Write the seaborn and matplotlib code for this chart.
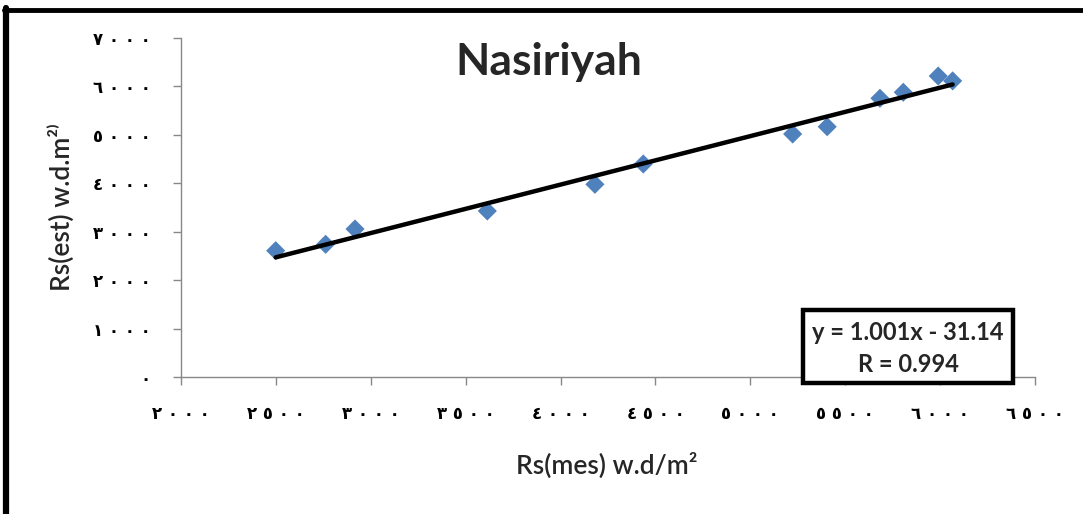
import matplotlib
matplotlib.use("Agg")
import matplotlib.pyplot as plt
import seaborn as sns
import pandas as pd
from matplotlib.patches import Rectangle
from matplotlib.lines import Line2D

# ---- data ----
rs_mes = [2499, 2762, 2917, 3614, 4181, 4436, 5223, 5405, 5683, 5806, 5990, 6066]
rs_est = [2608, 2740, 3056, 3428, 3979, 4398, 5018, 5168, 5755, 5879, 6215, 6114]
slope = 1.001
intercept = -31.14
r_value = 0.994
x_ticks = [2000, 2500, 3000, 3500, 4000, 4500, 5000, 5500, 6000, 6500]
y_ticks = [0, 1000, 2000, 3000, 4000, 5000, 6000, 7000]
title = "Nasiriyah"
x_label = "Rs(mes) w.d/m²"
y_label = "Rs(est) w.d.m²⁾"

AR = str.maketrans("0123456789", "٠١٢٣٤٥٦٧٨٩")
def ar(v):
    return " ".join(str(v).translate(AR))

sns.set_theme(style="white")
plt.rcParams["font.family"] = ["Lato", "DejaVu Sans"]

fig = plt.figure(figsize=(10.83, 5.14), dpi=100)
fig.patch.set_facecolor("white")
ax = fig.add_axes([181/1083, 1-377/514, (1035-181)/1083, (377-38)/514])

df = pd.DataFrame({"x": rs_mes, "y": rs_est})
sns.scatterplot(data=df, x="x", y="y", ax=ax, marker="D", s=95,
                color="#4F81BD", edgecolor="none", zorder=2)
xl = [min(rs_mes), max(rs_mes)]
line_df = pd.DataFrame({"x": xl, "y": [slope*v + intercept for v in xl]})
sns.lineplot(data=line_df, x="x", y="y", ax=ax, color="black", lw=3.2, zorder=3)

ax.set_xlim(x_ticks[0], x_ticks[-1])
ax.set_ylim(y_ticks[0], y_ticks[-1])
ax.set_xticks(x_ticks)
ax.set_yticks(y_ticks)
ax.set_xticklabels([ar(v) for v in x_ticks], family="DejaVu Sans", fontweight="bold", fontsize=12)
ax.set_yticklabels([ar(v) for v in y_ticks], family="DejaVu Sans", fontweight="bold", fontsize=12)
for s in ["top", "right"]:
    ax.spines[s].set_visible(False)
for s in ["left", "bottom"]:
    ax.spines[s].set_color("#888888")
    ax.spines[s].set_linewidth(1.0)
ax.tick_params(axis="both", direction="out", length=6, width=1.0, color="#888888",
               colors="black", left=True, bottom=True)
ax.tick_params(axis="y", pad=16)
ax.tick_params(axis="x", pad=14)
ax.set_xlabel("")
ax.set_ylabel("")

fig.text(549/1083, 1-62/514, title, ha="center", va="center", fontsize=32,
         fontweight="bold", family=["Lato", "DejaVu Sans"])
fig.text(607/1083, 1-466/514, x_label, ha="center", va="center", fontsize=19,
         fontweight="semibold", family=["Lato", "DejaVu Sans"])
fig.text(61/1083, 1-207/514, y_label, ha="center", va="center", fontsize=19,
         fontweight="semibold", rotation=90, family=["Lato", "DejaVu Sans"])

# equation box
fig.patches.append(Rectangle((803/1083, 1-383/514), (1013-803)/1083, (383-310)/514,
                             transform=fig.transFigure, fc="white", ec="black",
                             lw=3.2, zorder=5))
fig.text(908/1083, 1-332/514, f"y = {slope:.3f}x - {abs(intercept):.2f}",
         ha="center", va="center", fontsize=17, fontweight="bold", zorder=6)
fig.text(908/1083, 1-364/514, f"R = {r_value:.3f}",
         ha="center", va="center", fontsize=17, fontweight="bold", zorder=6)

# outer frame (left and top)
fig.lines.append(Line2D([6/1083, 6/1083], [0, 1-8/514], transform=fig.transFigure,
                        color="black", lw=4.5))
fig.lines.append(Line2D([4/1083, 1], [1-9.5/514, 1-9.5/514], transform=fig.transFigure,
                        color="black", lw=3.5))

fig.savefig("out.png", dpi=100, facecolor="white")
